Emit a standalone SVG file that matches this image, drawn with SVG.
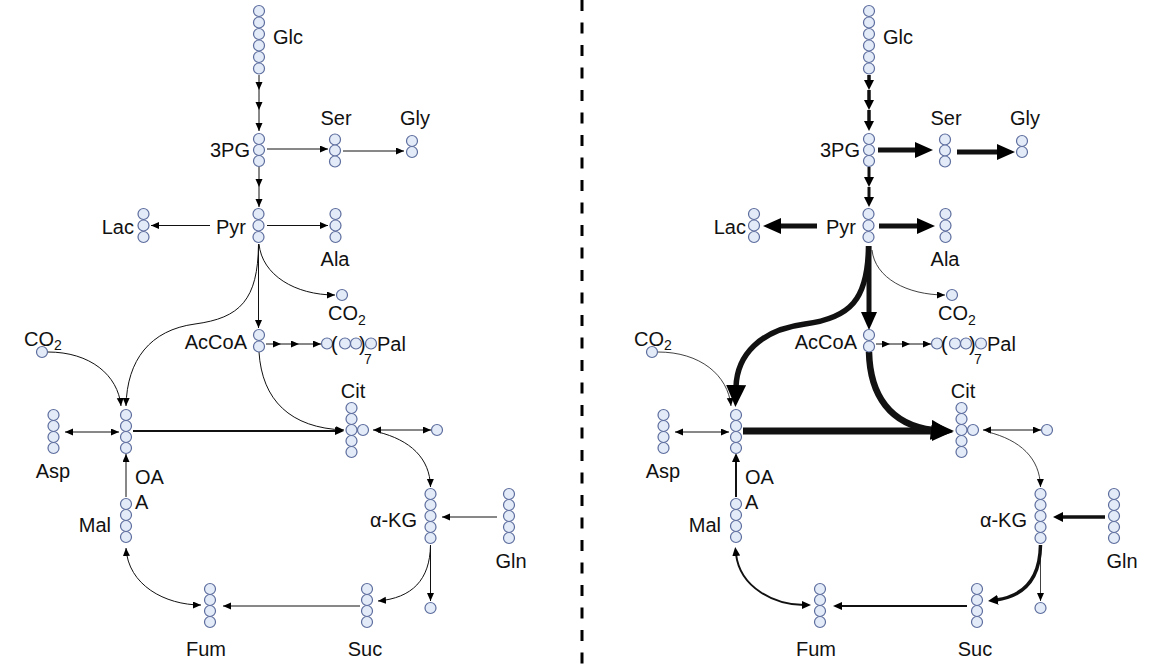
<svg xmlns="http://www.w3.org/2000/svg" width="1156" height="671" viewBox="0 0 1156 671">
<style>
.c{fill:#e2ebf7;stroke:#5d6d9e;stroke-width:1.2}
.t{font-family:"Liberation Sans",Arial,sans-serif;font-size:20px;fill:#111}
.e{text-anchor:end}
.m{text-anchor:middle}
.sub{font-size:14px}
.ln{fill:none;stroke:#111;stroke-width:1}
.lt{fill:none;stroke:#111;stroke-width:0.8}
.w18{stroke-width:1.8}
.w2{stroke-width:2}
.w3{stroke-width:3}
.w35{stroke-width:3.5}
.w5{stroke-width:5}
.w55{stroke-width:5.5}
.w65{stroke-width:6.5}
.w7{stroke-width:7}
.mk{fill:#000}
</style>
<defs>
<marker id="s" markerUnits="userSpaceOnUse" markerWidth="10" markerHeight="9" refX="8" refY="3.5" orient="auto"><path class="mk" d="M0,0 L8,3.5 L0,7 z"/></marker>
<marker id="sd" markerUnits="userSpaceOnUse" markerWidth="10" markerHeight="9" refX="8" refY="3.5" orient="auto-start-reverse"><path class="mk" d="M0,0 L8,3.5 L0,7 z"/></marker>
<marker id="m2" markerUnits="userSpaceOnUse" markerWidth="10" markerHeight="9" refX="2" refY="4" orient="auto"><path class="mk" d="M0,0 L9,4 L0,8 z"/></marker>
<marker id="m2d" markerUnits="userSpaceOnUse" markerWidth="10" markerHeight="9" refX="2" refY="4" orient="auto-start-reverse"><path class="mk" d="M0,0 L9,4 L0,8 z"/></marker>
<marker id="m" markerUnits="userSpaceOnUse" markerWidth="12" markerHeight="11" refX="2" refY="5" orient="auto"><path class="mk" d="M0,0 L10,5 L0,10 z"/></marker>
<marker id="L" markerUnits="userSpaceOnUse" markerWidth="20" markerHeight="18" refX="2" refY="8" orient="auto"><path class="mk" d="M0,0 L18,8 L0,16 z"/></marker>
<marker id="XL" markerUnits="userSpaceOnUse" markerWidth="24" markerHeight="22" refX="2" refY="10" orient="auto"><path class="mk" d="M0,0 L22,10 L0,20 z"/></marker>
</defs>
<rect width="1156" height="671" fill="#fff"/>
<line x1="582" y1="0" x2="582" y2="671" stroke="#000" stroke-width="3" stroke-dasharray="11 11.5"/>

<!-- LEFT connectors -->
<g id="connectors-left">
<path class="ln" d="M259,75 V90" marker-end="url(#s)"/>
<path class="ln" d="M259,90 V110" marker-end="url(#s)"/>
<path class="ln" d="M259,110 V131" marker-end="url(#s)"/>
<path class="ln" d="M267,149 H328" marker-end="url(#s)"/>
<path class="ln" d="M343,151 H404" marker-end="url(#s)"/>
<path class="ln" d="M259,167 V187" marker-end="url(#s)"/>
<path class="ln" d="M259,187 V207" marker-end="url(#s)"/>
<path class="ln" d="M210,225.5 H151" marker-end="url(#s)"/>
<path class="ln" d="M267,225.5 H328" marker-end="url(#s)"/>
<path class="ln" d="M258.5,244 V328" marker-end="url(#s)"/>
<path class="ln" d="M259,244 C262,275 295,295 335,295" marker-end="url(#s)"/>
<path class="ln" d="M258.5,244 C258,300 240,318 195,324 C150,330 127,360 126,406" marker-end="url(#s)"/>
<path class="ln" d="M266,344 H281" marker-end="url(#s)"/>
<path class="ln" d="M281,344 H299" marker-end="url(#s)"/>
<path class="ln" d="M299,344 H321" marker-end="url(#s)"/>
<path class="ln" d="M48,352 C90,352 118,375 121,406" marker-end="url(#s)"/>
<path class="ln" d="M65,432 H119" marker-start="url(#sd)" marker-end="url(#sd)"/>
<path class="ln w2" d="M133,431 H337" marker-end="url(#m2)"/>
<path class="ln" d="M259,352 C262,400 290,428 344,430" marker-end="url(#s)"/>
<path class="ln" d="M373,430 H431" marker-start="url(#sd)" marker-end="url(#sd)"/>
<path class="ln" d="M378,432 C410,440 430,458 430.5,487" marker-end="url(#s)"/>
<path class="ln" d="M497,517 H442" marker-end="url(#s)"/>
<path class="ln" d="M430.5,545 V601" marker-end="url(#s)"/>
<path class="ln" d="M430.5,545 C430,580 412,598 378,601" marker-end="url(#s)"/>
<path class="ln" d="M360,606 H223" marker-end="url(#s)"/>
<path class="ln" d="M126,548 C128,585 165,605 201,605" marker-start="url(#sd)" marker-end="url(#sd)"/>
<path class="ln" d="M126,497 V454" marker-end="url(#s)"/>
</g>

<!-- RIGHT connectors -->
<g id="connectors-right" transform="translate(610,0)">
<path class="ln w35" d="M259,75 V82" marker-end="url(#m)"/>
<path class="ln w35" d="M259,90 V102" marker-end="url(#m)"/>
<path class="ln w35" d="M259,110 V123" marker-end="url(#m)"/>
<path class="ln w5" d="M268,150 H307" marker-end="url(#L)"/>
<path class="ln w5" d="M347,152 H389" marker-end="url(#L)"/>
<path class="ln w3" d="M259,167 V179" marker-end="url(#m)"/>
<path class="ln w3" d="M259,187 V199" marker-end="url(#m)"/>
<path class="ln w5" d="M207,226 H169" marker-end="url(#L)"/>
<path class="ln w5" d="M269,226 H309" marker-end="url(#L)"/>
<path class="ln w5" d="M259,246 V314" marker-end="url(#L)"/>
<path class="lt" d="M262,250 C265,278 297,295 335,295" marker-end="url(#s)"/>
<path class="ln w55" d="M258.5,246 C258,300 240,318 195,324 C150,330 127,355 126,387" marker-end="url(#XL)"/>
<path class="ln" d="M266,344 H280" marker-end="url(#s)"/>
<path class="ln" d="M280,344 H300" marker-end="url(#s)"/>
<path class="ln" d="M300,344 H321" marker-end="url(#s)"/>
<path class="lt" d="M48,352 C90,352 118,375 121,406" marker-end="url(#s)"/>
<path class="ln" d="M65,432 H119" marker-start="url(#sd)" marker-end="url(#sd)"/>
<path class="ln w7" d="M133,431 H324" marker-end="url(#XL)"/>
<path class="ln w65" d="M259,352 C260,395 280,425 323,430" marker-end="url(#XL)"/>
<path class="ln" d="M373,430 H431" marker-start="url(#sd)" marker-end="url(#sd)"/>
<path class="lt" d="M378,432 C410,440 430,458 430.5,487" marker-end="url(#s)"/>
<path class="ln w35" d="M495,517 H451" marker-end="url(#m)"/>
<path class="lt" d="M430.5,545 V601" marker-end="url(#s)"/>
<path class="ln w35" d="M430.5,545 C430,578 415,596 386,600" marker-end="url(#m)"/>
<path class="ln w18" d="M357,606 H230" marker-end="url(#m2)"/>
<path class="ln w2" d="M126,554 C130,588 165,605 194,605" marker-start="url(#m2d)" marker-end="url(#m2d)"/>
<path class="ln w2" d="M126,497 V460" marker-end="url(#m2)"/>
</g>

<!-- LEFT nodes -->
<g id="left-nodes">
<g id="Glc"><circle class="c" cx="259" cy="11" r="5.5"/><circle class="c" cx="259" cy="22.5" r="5.5"/><circle class="c" cx="259" cy="34" r="5.5"/><circle class="c" cx="259" cy="45.5" r="5.5"/><circle class="c" cx="259" cy="57" r="5.5"/><circle class="c" cx="259" cy="68.5" r="5.5"/><text class="t" x="273" y="44">Glc</text></g>
<g id="PG3"><circle class="c" cx="259" cy="139" r="5.5"/><circle class="c" cx="259" cy="150" r="5.5"/><circle class="c" cx="259" cy="161" r="5.5"/><text class="t e" x="250" y="157">3PG</text></g>
<g id="Ser"><circle class="c" cx="335" cy="139.5" r="5.5"/><circle class="c" cx="335" cy="150.5" r="5.5"/><circle class="c" cx="335" cy="161.5" r="5.5"/><text class="t m" x="336" y="125">Ser</text></g>
<g id="Gly"><circle class="c" cx="412" cy="141" r="5.5"/><circle class="c" cx="412" cy="152" r="5.5"/><text class="t m" x="415" y="125">Gly</text></g>
<g id="Pyr"><circle class="c" cx="258.5" cy="214" r="5.5"/><circle class="c" cx="258.5" cy="225.5" r="5.5"/><circle class="c" cx="258.5" cy="237" r="5.5"/><text class="t e" x="246" y="234">Pyr</text></g>
<g id="Lac"><circle class="c" cx="143.5" cy="214" r="5.5"/><circle class="c" cx="143.5" cy="225.5" r="5.5"/><circle class="c" cx="143.5" cy="237" r="5.5"/><text class="t e" x="134" y="234">Lac</text></g>
<g id="Ala"><circle class="c" cx="335.5" cy="214" r="5.5"/><circle class="c" cx="335.5" cy="225.5" r="5.5"/><circle class="c" cx="335.5" cy="237" r="5.5"/><text class="t m" x="335" y="266">Ala</text></g>
<g id="CO2a"><circle class="c" cx="342" cy="295" r="5.5"/><text class="t" x="328" y="320">CO<tspan class="sub" dy="5">2</tspan></text></g>
<g id="AcCoA"><circle class="c" cx="259" cy="335" r="5.5"/><circle class="c" cx="259" cy="346.5" r="5.5"/><text class="t e" x="247" y="349">AcCoA</text></g>
<g id="Pal"><circle class="c" cx="327" cy="343.5" r="5.5"/><circle class="c" cx="345" cy="343.5" r="5.5"/><circle class="c" cx="356" cy="343.5" r="5.5"/><circle class="c" cx="371" cy="343.5" r="5.5"/><text class="t" x="331" y="351">(</text><text class="t" x="359" y="351">)</text><text class="t sub" x="364" y="364">7</text><text class="t" x="377" y="351">Pal</text></g>
<g id="CO2b"><circle class="c" cx="42" cy="352" r="5.5"/><text class="t" x="24" y="346">CO<tspan class="sub" dy="4">2</tspan></text></g>
<g id="OAA"><circle class="c" cx="126" cy="415" r="5.5"/><circle class="c" cx="126" cy="426" r="5.5"/><circle class="c" cx="126" cy="437" r="5.5"/><circle class="c" cx="126" cy="448" r="5.5"/><text class="t" x="135" y="484">OA</text><text class="t" x="135" y="509">A</text></g>
<g id="Asp"><circle class="c" cx="53.5" cy="415" r="5.5"/><circle class="c" cx="53.5" cy="426" r="5.5"/><circle class="c" cx="53.5" cy="437" r="5.5"/><circle class="c" cx="53.5" cy="448" r="5.5"/><text class="t m" x="53" y="478">Asp</text></g>
<g id="Mal"><circle class="c" cx="126" cy="504" r="5.5"/><circle class="c" cx="126" cy="515" r="5.5"/><circle class="c" cx="126" cy="526" r="5.5"/><circle class="c" cx="126" cy="537" r="5.5"/><text class="t e" x="111" y="532">Mal</text></g>
<g id="Cit"><circle class="c" cx="363" cy="430" r="5.5"/><circle class="c" cx="351.5" cy="408" r="5.5"/><circle class="c" cx="351.5" cy="419" r="5.5"/><circle class="c" cx="351.5" cy="430" r="5.5"/><circle class="c" cx="351.5" cy="441" r="5.5"/><circle class="c" cx="351.5" cy="452" r="5.5"/><text class="t m" x="353" y="398">Cit</text></g>
<g id="CitX"><circle class="c" cx="437" cy="430" r="5.5"/></g>
<g id="aKG"><circle class="c" cx="430.5" cy="494" r="5.5"/><circle class="c" cx="430.5" cy="505" r="5.5"/><circle class="c" cx="430.5" cy="516" r="5.5"/><circle class="c" cx="430.5" cy="527" r="5.5"/><circle class="c" cx="430.5" cy="538" r="5.5"/><text class="t e" x="417" y="527">α-KG</text></g>
<g id="Gln"><circle class="c" cx="509" cy="494" r="5.5"/><circle class="c" cx="509" cy="505" r="5.5"/><circle class="c" cx="509" cy="516" r="5.5"/><circle class="c" cx="509" cy="527" r="5.5"/><circle class="c" cx="509" cy="538" r="5.5"/><text class="t m" x="511" y="568">Gln</text></g>
<g id="aKGX"><circle class="c" cx="430.5" cy="608" r="5.5"/></g>
<g id="Suc"><circle class="c" cx="367" cy="589" r="5.5"/><circle class="c" cx="367" cy="600" r="5.5"/><circle class="c" cx="367" cy="611" r="5.5"/><circle class="c" cx="367" cy="622" r="5.5"/><text class="t m" x="365" y="656">Suc</text></g>
<g id="Fum"><circle class="c" cx="210" cy="589" r="5.5"/><circle class="c" cx="210" cy="600" r="5.5"/><circle class="c" cx="210" cy="611" r="5.5"/><circle class="c" cx="210" cy="622" r="5.5"/><text class="t m" x="206" y="656">Fum</text></g>
</g>

<!-- RIGHT nodes -->
<g id="right-nodes" transform="translate(610,0)">
<g id="Glc-r"><circle class="c" cx="259" cy="11" r="5.5"/><circle class="c" cx="259" cy="22.5" r="5.5"/><circle class="c" cx="259" cy="34" r="5.5"/><circle class="c" cx="259" cy="45.5" r="5.5"/><circle class="c" cx="259" cy="57" r="5.5"/><circle class="c" cx="259" cy="68.5" r="5.5"/><text class="t" x="273" y="44">Glc</text></g>
<g id="PG3-r"><circle class="c" cx="259" cy="139" r="5.5"/><circle class="c" cx="259" cy="150" r="5.5"/><circle class="c" cx="259" cy="161" r="5.5"/><text class="t e" x="250" y="157">3PG</text></g>
<g id="Ser-r"><circle class="c" cx="335" cy="139.5" r="5.5"/><circle class="c" cx="335" cy="150.5" r="5.5"/><circle class="c" cx="335" cy="161.5" r="5.5"/><text class="t m" x="336" y="125">Ser</text></g>
<g id="Gly-r"><circle class="c" cx="412" cy="141" r="5.5"/><circle class="c" cx="412" cy="152" r="5.5"/><text class="t m" x="415" y="125">Gly</text></g>
<g id="Pyr-r"><circle class="c" cx="258.5" cy="214" r="5.5"/><circle class="c" cx="258.5" cy="225.5" r="5.5"/><circle class="c" cx="258.5" cy="237" r="5.5"/><text class="t e" x="246" y="234">Pyr</text></g>
<g id="Lac-r"><circle class="c" cx="144" cy="214" r="5.5"/><circle class="c" cx="144" cy="225.5" r="5.5"/><circle class="c" cx="144" cy="237" r="5.5"/><text class="t e" x="136" y="234">Lac</text></g>
<g id="Ala-r"><circle class="c" cx="335.5" cy="214" r="5.5"/><circle class="c" cx="335.5" cy="225.5" r="5.5"/><circle class="c" cx="335.5" cy="237" r="5.5"/><text class="t m" x="335" y="266">Ala</text></g>
<g id="CO2a-r"><circle class="c" cx="342" cy="295" r="5.5"/><text class="t" x="328" y="320">CO<tspan class="sub" dy="5">2</tspan></text></g>
<g id="AcCoA-r"><circle class="c" cx="259" cy="335" r="5.5"/><circle class="c" cx="259" cy="346.5" r="5.5"/><text class="t e" x="247" y="349">AcCoA</text></g>
<g id="Pal-r"><circle class="c" cx="327" cy="343.5" r="5.5"/><circle class="c" cx="345" cy="343.5" r="5.5"/><circle class="c" cx="356" cy="343.5" r="5.5"/><circle class="c" cx="371" cy="343.5" r="5.5"/><text class="t" x="331" y="351">(</text><text class="t" x="359" y="351">)</text><text class="t sub" x="364" y="364">7</text><text class="t" x="377" y="351">Pal</text></g>
<g id="CO2b-r"><circle class="c" cx="42" cy="352" r="5.5"/><text class="t" x="24" y="346">CO<tspan class="sub" dy="4">2</tspan></text></g>
<g id="OAA-r"><circle class="c" cx="126" cy="415" r="5.5"/><circle class="c" cx="126" cy="426" r="5.5"/><circle class="c" cx="126" cy="437" r="5.5"/><circle class="c" cx="126" cy="448" r="5.5"/><text class="t" x="135" y="484">OA</text><text class="t" x="135" y="509">A</text></g>
<g id="Asp-r"><circle class="c" cx="53.5" cy="415" r="5.5"/><circle class="c" cx="53.5" cy="426" r="5.5"/><circle class="c" cx="53.5" cy="437" r="5.5"/><circle class="c" cx="53.5" cy="448" r="5.5"/><text class="t m" x="53" y="478">Asp</text></g>
<g id="Mal-r"><circle class="c" cx="126" cy="504" r="5.5"/><circle class="c" cx="126" cy="515" r="5.5"/><circle class="c" cx="126" cy="526" r="5.5"/><circle class="c" cx="126" cy="537" r="5.5"/><text class="t e" x="111" y="532">Mal</text></g>
<g id="Cit-r"><circle class="c" cx="363" cy="430" r="5.5"/><circle class="c" cx="351.5" cy="408" r="5.5"/><circle class="c" cx="351.5" cy="419" r="5.5"/><circle class="c" cx="351.5" cy="430" r="5.5"/><circle class="c" cx="351.5" cy="441" r="5.5"/><circle class="c" cx="351.5" cy="452" r="5.5"/><text class="t m" x="353" y="398">Cit</text></g>
<g id="CitX-r"><circle class="c" cx="437" cy="430" r="5.5"/></g>
<g id="aKG-r"><circle class="c" cx="430.5" cy="494" r="5.5"/><circle class="c" cx="430.5" cy="505" r="5.5"/><circle class="c" cx="430.5" cy="516" r="5.5"/><circle class="c" cx="430.5" cy="527" r="5.5"/><circle class="c" cx="430.5" cy="538" r="5.5"/><text class="t e" x="417" y="527">α-KG</text></g>
<g id="Gln-r"><circle class="c" cx="504" cy="494" r="5.5"/><circle class="c" cx="504" cy="505" r="5.5"/><circle class="c" cx="504" cy="516" r="5.5"/><circle class="c" cx="504" cy="527" r="5.5"/><circle class="c" cx="504" cy="538" r="5.5"/><text class="t m" x="512" y="568">Gln</text></g>
<g id="aKGX-r"><circle class="c" cx="430.5" cy="608" r="5.5"/></g>
<g id="Suc-r"><circle class="c" cx="367" cy="589" r="5.5"/><circle class="c" cx="367" cy="600" r="5.5"/><circle class="c" cx="367" cy="611" r="5.5"/><circle class="c" cx="367" cy="622" r="5.5"/><text class="t m" x="365" y="656">Suc</text></g>
<g id="Fum-r"><circle class="c" cx="210" cy="589" r="5.5"/><circle class="c" cx="210" cy="600" r="5.5"/><circle class="c" cx="210" cy="611" r="5.5"/><circle class="c" cx="210" cy="622" r="5.5"/><text class="t m" x="206" y="656">Fum</text></g>
</g>
</svg>
